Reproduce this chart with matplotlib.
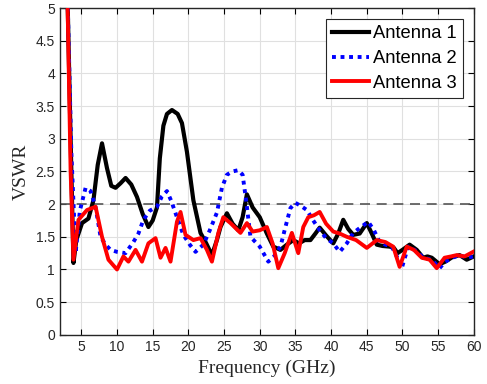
import matplotlib
matplotlib.use("Agg")
import matplotlib.pyplot as plt

f1 = [3.0, 3.5, 3.9, 4.3, 5.1, 6.0, 6.7, 7.3, 7.9, 8.6, 9.2, 9.8, 10.5, 11.2, 12.0, 12.8, 13.6, 14.4, 15.0, 15.6, 16.0, 16.5, 17.0, 17.7, 18.5, 19.1, 19.8, 20.7, 21.7, 22.5, 23.3, 24.0, 24.5, 25.4, 26.2, 27.0, 27.6, 28.2, 29.0, 30.0, 31.0, 31.9, 32.9, 33.8, 34.7, 35.5, 36.3, 37.1, 37.8, 38.4, 39.3, 40.3, 41.0, 41.7, 42.4, 43.1, 44.0, 45.0, 45.7, 46.4, 47.2, 48.2, 48.8, 49.3, 50.0, 51.0, 52.0, 52.9, 53.5, 54.1, 55.2, 56.0, 57.0, 58.0, 59.0, 60.0]
a1 = [5.5, 3.0, 1.10, 1.45, 1.71, 1.78, 2.06, 2.60, 2.93, 2.55, 2.28, 2.25, 2.32, 2.40, 2.30, 2.11, 1.85, 1.65, 1.75, 1.95, 2.70, 3.20, 3.38, 3.44, 3.38, 3.24, 2.80, 2.06, 1.56, 1.40, 1.22, 1.45, 1.65, 1.86, 1.70, 1.60, 1.80, 2.15, 1.95, 1.80, 1.55, 1.35, 1.30, 1.38, 1.45, 1.40, 1.45, 1.45, 1.55, 1.64, 1.52, 1.40, 1.55, 1.76, 1.62, 1.53, 1.55, 1.71, 1.55, 1.38, 1.36, 1.35, 1.33, 1.25, 1.30, 1.38, 1.30, 1.18, 1.20, 1.18, 1.08, 1.12, 1.19, 1.22, 1.15, 1.20]

f2 = [3.0, 3.6, 4.2, 4.8, 5.6, 6.3, 7.0, 7.7, 8.4, 9.1, 10.0, 11.2, 12.3, 13.0, 13.7, 14.6, 15.6, 16.3, 17.0, 17.6, 18.4, 19.3, 20.2, 21.0, 22.1, 23.0, 24.0, 24.7, 25.4, 26.2, 27.0, 27.6, 28.1, 28.7, 30.0, 31.2, 32.0, 32.9, 33.6, 34.3, 35.0, 35.8, 36.6, 37.5, 38.4, 39.3, 40.3, 41.2, 42.2, 43.1, 44.2, 45.2, 46.0, 46.8, 47.6, 48.5, 49.2, 49.9, 50.8, 52.0, 52.9, 54.1, 55.2, 56.0, 57.0, 58.0, 59.0, 60.0]
a2 = [5.5, 2.8, 1.25, 1.90, 2.25, 2.20, 1.95, 1.50, 1.38, 1.30, 1.27, 1.25, 1.42, 1.55, 1.76, 1.90, 1.96, 2.12, 2.20, 2.05, 1.80, 1.53, 1.38, 1.27, 1.38, 1.60, 1.87, 2.25, 2.45, 2.50, 2.52, 2.45, 2.05, 1.50, 1.35, 1.12, 1.20, 1.35, 1.65, 1.94, 2.02, 1.97, 1.91, 1.75, 1.60, 1.48, 1.40, 1.27, 1.40, 1.56, 1.65, 1.73, 1.60, 1.42, 1.38, 1.35, 1.20, 1.02, 1.35, 1.28, 1.18, 1.15, 1.02, 1.12, 1.18, 1.22, 1.18, 1.20]

f3 = [3.0, 3.5, 3.9, 4.6, 5.8, 7.0, 7.9, 8.8, 10.0, 10.9, 11.6, 12.6, 13.5, 14.4, 15.4, 16.1, 16.8, 17.5, 18.4, 18.9, 19.6, 20.7, 21.7, 22.6, 23.3, 24.2, 24.9, 25.9, 27.3, 28.2, 29.0, 30.0, 31.0, 31.8, 32.6, 33.5, 34.5, 35.4, 36.1, 36.8, 37.6, 38.4, 39.3, 40.3, 41.2, 42.2, 43.5, 45.0, 46.4, 47.6, 48.7, 49.6, 50.6, 51.6, 52.7, 53.8, 54.8, 55.9, 56.8, 57.6, 58.7, 59.9]
a3 = [5.5, 2.5, 1.15, 1.76, 1.91, 1.96, 1.50, 1.15, 1.00, 1.20, 1.12, 1.30, 1.12, 1.40, 1.48, 1.18, 1.33, 1.12, 1.73, 1.88, 1.53, 1.45, 1.48, 1.30, 1.12, 1.56, 1.80, 1.71, 1.56, 1.71, 1.58, 1.60, 1.65, 1.40, 1.02, 1.25, 1.56, 1.25, 1.65, 1.80, 1.83, 1.88, 1.70, 1.58, 1.55, 1.50, 1.45, 1.33, 1.45, 1.42, 1.35, 1.04, 1.35, 1.30, 1.18, 1.15, 1.02, 1.18, 1.20, 1.22, 1.20, 1.27]

ref_level = 2.0
xticks = [5, 10, 15, 20, 25, 30, 35, 40, 45, 50, 55, 60]
yticks = [0, 0.5, 1, 1.5, 2, 2.5, 3, 3.5, 4, 4.5, 5]
ytick_labels = ["0", "0.5", "1", "1.5", "2", "2.5", "3", "3.5", "4", "4.5", "5"]

fig = plt.figure(figsize=(4.87, 3.84), dpi=100)
ax = fig.add_axes([0.123, 0.128, 0.850, 0.851])

ax.axhline(ref_level, color="#555555", lw=1.2, ls=(0, (6, 4)), zorder=2)
ax.plot(f1, a1, color="black", lw=3.0, label="Antenna 1", zorder=3, solid_joinstyle="round")
ax.plot(f2, a2, color="blue", lw=2.8, ls=(0, (1, 1.2)), label="Antenna 2", zorder=4)
ax.plot(f3, a3, color="red", lw=2.8, label="Antenna 3", zorder=5, solid_joinstyle="round")

ax.set_xlim(2, 60)
ax.set_ylim(0, 5)
ax.set_xticks(xticks)
ax.set_yticks(yticks)
ax.set_yticklabels(ytick_labels)
ax.grid(True, color="#e0e0e0", lw=0.8)
ax.set_axisbelow(True)
ax.tick_params(direction="in", top=True, right=True, length=4, labelsize=10,
               labelcolor="#262626", width=0.8)
for lab in ax.get_xticklabels() + ax.get_yticklabels():
    lab.set_family("Liberation Sans")
for sp in ax.spines.values():
    sp.set_linewidth(1.0)
    sp.set_color("#262626")

ax.set_xlabel("Frequency (GHz)", family="Liberation Serif", fontsize=14, color="#262626")
ax.set_ylabel("VSWR", family="Liberation Serif", fontsize=14, color="#262626")

leg = ax.legend(loc="upper right", prop={"family": "Liberation Sans", "size": 13.2},
                fancybox=False, framealpha=1, edgecolor="#262626",
                handlelength=2.0, handletextpad=0.2, borderpad=0.35, labelspacing=0.42,
                borderaxespad=0.6)
leg.get_frame().set_linewidth(0.8)

fig.savefig("out.png", dpi=100)
